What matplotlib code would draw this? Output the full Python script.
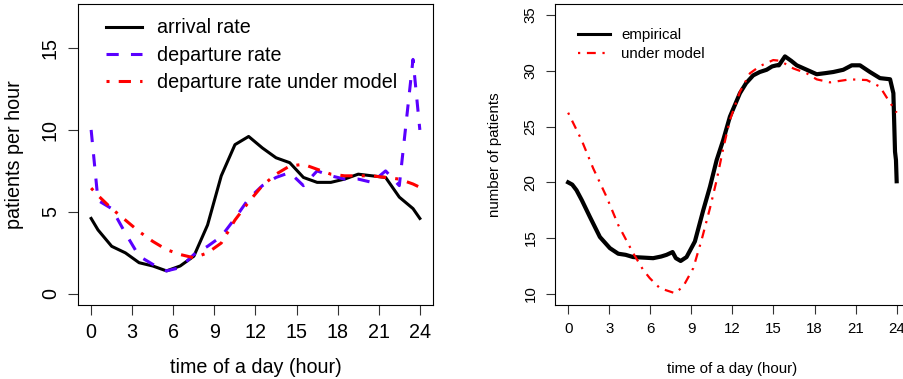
import numpy as np
import matplotlib.pyplot as plt

plt.rcParams['font.family'] = ['Liberation Sans', 'DejaVu Sans']

# left panel: hourly rates
hours = [0, 0.5, 1.5, 2.5, 3.5, 4.5, 5.5, 6.5, 7.5, 8.5, 9.5, 10.5, 11.5,
         12.5, 13.5, 14.5, 15.5, 16.5, 17.5, 18.5, 19.5, 20.5, 21.5, 22.5, 23.5, 24]
arrival = [4.6, 3.9, 2.9, 2.5, 1.9, 1.7, 1.4, 1.7, 2.3, 4.2, 7.2, 9.1, 9.6,
           8.9, 8.3, 8.0, 7.1, 6.8, 6.8, 7.0, 7.3, 7.2, 7.1, 5.9, 5.2, 4.6]
departure = [10.0, 5.7, 5.2, 3.7, 2.3, 1.8, 1.4, 1.6, 2.4, 2.9, 3.5, 4.6, 5.8,
             6.6, 7.1, 7.4, 6.6, 7.5, 7.2, 7.0, 7.0, 6.8, 7.5, 6.6, 14.3, 10.0]
departure_model = [6.45, 6.0, 5.2, 4.5, 3.8, 3.2, 2.7, 2.4, 2.2, 2.5, 3.1, 4.5, 5.6,
                   6.6, 7.3, 7.8, 7.9, 7.6, 7.3, 7.2, 7.2, 7.2, 7.1, 7.0, 6.7, 6.5]

# right panel: number of patients
emp_t = [0, 0.3, 0.61, 1.0, 1.59, 2.32, 3.05, 3.66, 4.2, 4.75, 5.5, 6.21, 6.8, 7.19,
         7.63, 7.87, 8.22, 8.65, 9.26, 9.87, 10.36, 10.85, 11.33, 11.82, 12.55,
         13.0, 13.52, 14.0, 14.5, 14.9, 15.23, 15.4, 15.84, 16.3, 16.7, 17.43, 18.16,
         18.8, 19.37, 20.1, 20.72, 21.32, 22.05, 22.78, 23.52, 23.76, 23.88, 23.95, 24.0]
empirical = [20.0, 19.8, 19.3, 18.4, 16.9, 15.1, 14.1, 13.6, 13.5, 13.3, 13.25, 13.2, 13.35,
             13.5, 13.75, 13.2, 12.95, 13.3, 14.7, 17.5, 19.6, 22.0, 23.8, 25.9, 28.0,
             28.9, 29.6, 29.9, 30.1, 30.4, 30.5, 30.5, 31.3, 30.9, 30.5, 30.1, 29.7,
             29.8, 29.9, 30.1, 30.5, 30.5, 29.9, 29.35, 29.25, 28.0, 22.75, 22.0, 20.1]
model_t = [0, 0.98, 1.83, 2.8, 3.66, 4.75, 5.48, 5.97, 6.7, 7.8, 8.4, 9.14, 9.75,
           10.36, 10.85, 11.33, 11.82, 12.55, 13.28, 14.01, 14.98, 15.47, 16.45,
           17.43, 18.16, 19.13, 20.59, 21.81, 22.78, 23.39, 23.88, 24.0]
model = [26.25, 23.8, 21.26, 18.72, 16.18, 13.65, 12.15, 11.4, 10.51, 10.06, 10.65,
         12.3, 14.84, 17.68, 20.2, 23.05, 25.6, 28.13, 29.78, 30.43, 30.97, 30.91,
         30.22, 29.78, 29.24, 28.97, 29.24, 29.18, 28.58, 27.38, 26.49, 26.25]

xticks = [0, 3, 6, 9, 12, 15, 18, 21, 24]

fig = plt.figure(figsize=(9.04, 3.79), dpi=100)
ax1 = fig.add_axes([78/904, 1-305/379, 355/904, 301/379])
ax2 = fig.add_axes([555/904, 1-305/379, 354.8/904, 301/379])

blue = '#5A00FF'
dotdash = (0, (1, 3, 4, 3))
fs1 = 14.2
fs2 = 10.8

ax1.plot(hours, arrival, color='black', lw=2.2, label='arrival rate')
ax1.plot(hours, departure, color=blue, lw=2.2, ls=(0, (4, 4)), label='departure rate')
ax1.plot(hours, departure_model, color='red', lw=2.2, ls=dotdash,
         label='departure rate under model')
ax1.set_xlim(-0.96, 24.96)
ax1.set_ylim(-0.68, 17.68)
ax1.set_xticks(xticks)
ax1.set_yticks([0, 5, 10, 15])
ax1.tick_params(labelsize=fs1, length=7, width=0.8, pad=6, color='#333333')
for t in ax1.get_yticklabels():
    t.set_rotation(90)
    t.set_va('center')
ax1.set_xlabel('time of a day (hour)', fontsize=fs1)
ax1.set_ylabel('patients per hour', fontsize=fs1)
ax1.xaxis.set_label_coords(0.5, -0.175)
ax1.yaxis.set_label_coords(-0.18, 0.5)
ax1.yaxis.label.set_va('center')
ax1.legend(loc='upper left', bbox_to_anchor=(0.08, 0.952), frameon=False,
           fontsize=fs1, handlelength=1.78, handletextpad=0.8,
           labelspacing=0.42, borderpad=0, borderaxespad=0)

ax2.plot(emp_t, empirical, color='black', lw=3, label='empirical')
ax2.plot(model_t, model, color='red', lw=1.6, ls=dotdash, label='under model')
ax2.set_xlim(-0.96, 24.96)
ax2.set_ylim(9, 36)
ax2.set_xticks(xticks)
ax2.set_yticks([10, 15, 20, 25, 30, 35])
ax2.tick_params(labelsize=fs2, length=6.5, width=0.8, pad=6, color='#333333')
for t in ax2.get_yticklabels():
    t.set_rotation(90)
    t.set_va('center')
ax2.set_xlabel('time of a day (hour)', fontsize=fs2)
ax2.set_ylabel('number of patients', fontsize=fs2)
ax2.xaxis.set_label_coords(0.5, -0.19)
ax2.yaxis.set_label_coords(-0.17, 0.5)
ax2.yaxis.label.set_va('center')
leg = ax2.legend(loc='upper left', bbox_to_anchor=(0.065, 0.92), frameon=False,
                 fontsize=fs2, handlelength=2.13, handletextpad=0.75,
                 labelspacing=0.35, borderpad=0, borderaxespad=0)
leg.get_lines()[0].set_linewidth(2.2)

fig.savefig('out.png', dpi=100)
